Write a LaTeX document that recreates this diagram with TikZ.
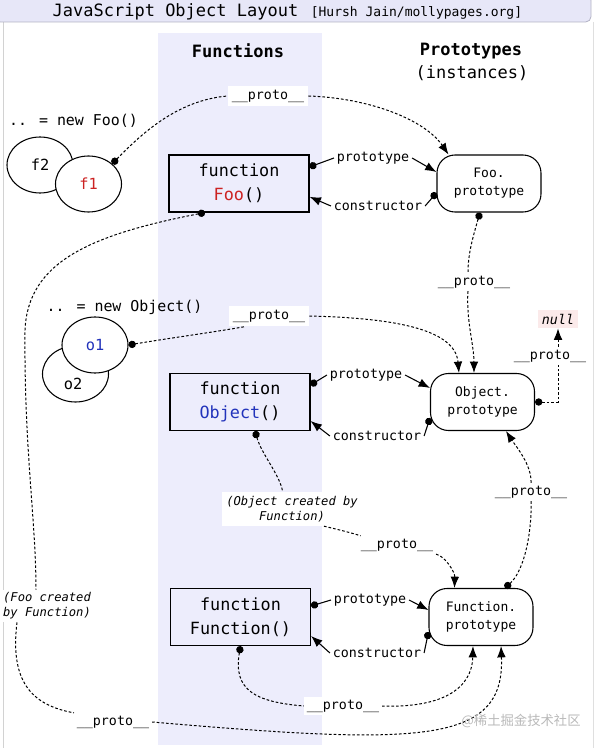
\documentclass[tikz,border=0pt]{standalone}
\usepackage{fontspec}
\setmainfont{DejaVu Sans Mono}
\newfontfamily\cjk{Noto Sans CJK SC}
\usepackage{tikz}
\usetikzlibrary{arrows.meta}
\usetikzlibrary{shapes.geometric}
\usetikzlibrary{calc}

\definecolor{titlebg}{RGB}{231,231,248}
\definecolor{titleln}{RGB}{178,178,196}
\definecolor{colbg}{RGB}{237,237,252}
\definecolor{fooRed}{RGB}{204,34,34}
\definecolor{objBlue}{RGB}{34,51,187}
\definecolor{nullbg}{RGB}{251,234,234}

\begin{document}
\begin{tikzpicture}[x=0.75pt,y=0.75pt,yscale=-1,xscale=1,
  fnbox/.style={draw, line width=0.85pt, minimum width=105pt, minimum height=42.75pt, align=center, font=\fontsize{12.6}{18}\selectfont},
  protobox/.style={draw, line width=0.8pt, rounded corners=13.5pt, minimum width=78pt, minimum height=42.75pt, align=center, font=\fontsize{9.75}{13.5}\selectfont},
  inst/.style={draw, ellipse, line width=0.8pt, fill=white, minimum width=49.5pt, minimum height=42pt, inner sep=0pt, font=\fontsize{11.5}{13}\selectfont},
  lbl/.style={fill=white, inner sep=2pt, font=\fontsize{10}{12}\selectfont},
  note/.style={fill=white, inner sep=2pt, align=center, font=\fontsize{9.1}{11.25}\selectfont\itshape},
  con/.style={line width=0.8pt},
  dotcon/.style={con, {Circle[length=5.5pt]}-},
  arrcon/.style={con, -{Latex[length=8.5pt,width=6.5pt]}},
  curv/.style={line width=0.75pt, dash pattern=on 2pt off 1.5pt},
  dcurv/.style={curv, {Circle[length=5.5pt]}-},
  acurv/.style={curv, -{Latex[length=8.5pt,width=6.5pt]}},
]
\useasboundingbox (0,0) rectangle (596,748);

%Shape: Rectangle [frame and title bar]
\draw [draw=gray!35, line width=0.6pt] (3,22) -- (3,748) ;
\draw [draw=gray!25, line width=0.6pt] (593,22) -- (593,748) ;
\draw [fill=colbg, draw=none] (158,33) rectangle (322,745) ;
\draw [fill=titlebg, draw=titleln, line width=0.6pt, rounded corners=4pt] (-5,-5) rectangle (591,22) ;

% Text Node
\draw (175.5,12) node [font=\fontsize{12.75}{14}\selectfont] (ttl) {JavaScript Object Layout};
% Text Node
\draw (416.5,13) node [font=\fontsize{9.75}{12}\selectfont] (ttlsrc) {[Hursh Jain/mollypages.org]};
% Text Node
\draw (238,51) node [font=\fontsize{12.75}{14}\selectfont\bfseries] (hdfun) {Functions};
% Text Node
\draw (471,51) node [font=\fontsize{12.75}{14}\selectfont\bfseries] (hdproto) {Prototypes};
% Text Node
\draw (472,73) node [font=\fontsize{12.75}{14}\selectfont] (hdinst) {(instances)};

% Text Node
\draw (73.5,121) node [font=\fontsize{11.2}{13}\selectfont] (newfoo) {.. = new Foo()};
% Text Node
\draw (124.5,307) node [font=\fontsize{11.2}{13}\selectfont] (newobj) {.. = new Object()};

%Shape: Ellipse
\draw (40,165) node [inst] (f2) {f2};
\draw (88.5,184) node [inst] (f1) {\color{fooRed}f1};
\draw (75.5,374) node [inst] (o2) {};
\draw (73,384) node [font=\fontsize{11.5}{13}\selectfont] (o2l) {o2};
\draw (95,345) node [inst] (o1) {\color{objBlue}o1};

%Shape: Rectangle
\draw (239,183.5) node [fnbox] (foo) {function\\{\color{fooRed}Foo}()};
\draw (240,402) node [fnbox] (obj) {function\\{\color{objBlue}Object}()};
\draw (240.5,617) node [fnbox] (fun) {function\\Function()};

%Rounded Rect
\draw (489,183.5) node [protobox] (fooproto) {Foo.\\prototype};
\draw (482.5,402) node [protobox] (objproto) {Object.\\prototype};
\draw (481,617) node [protobox] (funproto) {Function.\\prototype};

% Text Node
\draw (373,158) node [lbl] (pr1) {prototype};
\draw (378,206) node [lbl] (co1) {constructor};
\draw (366,375) node [lbl] (pr2) {prototype};
\draw (377,436) node [lbl] (co2) {constructor};
\draw (370,600) node [lbl] (pr3) {prototype};
\draw (377,653) node [lbl] (co3) {constructor};

% Text Node
\draw (268,96) node [lbl, inner sep=3pt] (pa) {\_\_proto\_\_};
\draw (269,316) node [lbl, inner sep=3pt] (pb) {\_\_proto\_\_};
\draw (474,282) node [lbl] (pc) {\_\_proto\_\_};
\draw (550,356) node [lbl] (pd) {\_\_proto\_\_};
\draw (531,492) node [lbl] (pe) {\_\_proto\_\_};
\draw (397,545) node [lbl] (pf) {\_\_proto\_\_};
\draw (343,706) node [lbl] (pg) {\_\_proto\_\_};
\draw (113,722) node [lbl] (ph) {\_\_proto\_\_};

% Text Node
\draw (292,509) node [note, inner sep=3pt] (objby) {(Object created by\\Function)};
\draw (47,606) node [note] (fooby) {(Foo created\\by Function)};
\draw (558,319) node [lbl, fill=nullbg, inner sep=3pt, font=\fontsize{10}{12}\selectfont\itshape] (null) {null};

%Straight Lines
\draw [dotcon] ([yshift=-12.4pt]foo.east) -- (pr1.west) ;
\draw [arrcon] (pr1.east) -- ([yshift=-8.6pt]fooproto.west) ;
\draw [dotcon] ([yshift=7pt]fooproto.west) -- (co1.east) ;
\draw [arrcon] (co1.west) -- ([yshift=10pt]foo.east) ;
%Straight Lines
\draw [dotcon] ([yshift=-12.75pt]obj.east) -- (pr2.west) ;
\draw [arrcon] (pr2.east) -- ([yshift=-10.5pt]objproto.west) ;
\draw [dotcon] ([yshift=12pt]objproto.west) -- (co2.east) ;
\draw [arrcon] (co2.west) -- ([yshift=14.25pt]obj.east) ;
%Straight Lines
\draw [dotcon] ([yshift=-8.25pt]fun.east) -- (pr3.west) ;
\draw [arrcon] (pr3.east) -- ([yshift=-5.25pt]funproto.west) ;
\draw [dotcon] ([yshift=11.25pt]funproto.west) -- (co3.east) ;
\draw [arrcon] (co3.west) -- ([yshift=14.25pt]fun.east) ;

%Curve Lines
\draw [dcurv] (f1.north east) .. controls (145,130) and (180,100) .. (pa.west) ;
\draw [acurv] (pa.east) .. controls (370,98) and (425,120) .. ([xshift=9pt]fooproto.north west) ;
%Curve Lines
\draw [dcurv] ([xshift=-25.5pt]foo.south) .. controls (90,235) and (28,262) .. (25,330) .. controls (24,450) and (36,520) .. ([xshift=-8.25pt]fooby.north) ;
\draw [curv] ([xshift=-22.5pt]fooby.south) .. controls (10,680) and (30,705) .. (ph.north west) ;
\draw [acurv] (ph.east) .. controls (420,745) and (505,745) .. ([xshift=15pt]funproto.south) ;
%Curve Lines
\draw [dcurv] ([xshift=-6.75pt]fooproto.south) .. controls (472,240) and (468,255) .. ([xshift=-4.5pt]pc.north) ;
\draw [acurv] ([xshift=-4.5pt]pc.south) .. controls (466,320) and (474,345) .. ([xshift=33pt]objproto.north west) ;
%Curve Lines
\draw [dcurv] (o1.east) .. controls (170,338) and (215,332) .. ([xshift=12.75pt]pb.south west) ;
\draw [acurv] (pb.east) .. controls (390,318) and (455,328) .. ([xshift=21.75pt]objproto.north west) ;
%Straight Lines
\draw [dcurv] (objproto.east) -| ([xshift=6pt]pd.south) ;
\draw [acurv] ([xshift=6pt]pd.north) -- (null.south) ;
%Curve Lines
\draw [dcurv] ([xshift=18pt]funproto.north) .. controls (525,570) and (532,530) .. (pe.south) ;
\draw [acurv] (pe.north) .. controls (532,465) and (515,445) .. ([xshift=17.6pt]objproto.south) ;
%Curve Lines
\draw [dcurv] ([xshift=11.25pt]obj.south) .. controls (262,455) and (280,475) .. ([xshift=-7pt]objby.north) ;
\draw [curv] ([xshift=24pt]objby.south) .. controls (340,530) and (352,533) .. ([xshift=2pt]pf.north west) ;
\draw [acurv] (pf.south east) .. controls (445,556) and (455,572) .. ([xshift=19.5pt]funproto.north west) ;
%Curve Lines
\draw [dcurv] (fun.south) .. controls (233,690) and (255,702) .. (pg.west) ;
\draw [acurv] (pg.east) .. controls (440,708) and (472,690) .. ([xshift=-6pt]funproto.south) ;

% Text Node
\draw (521,721) node [font=\cjk\fontsize{10}{12}\selectfont, text=gray!55] (wm) {@稀土掘金技术社区};

\end{tikzpicture}
\end{document}
